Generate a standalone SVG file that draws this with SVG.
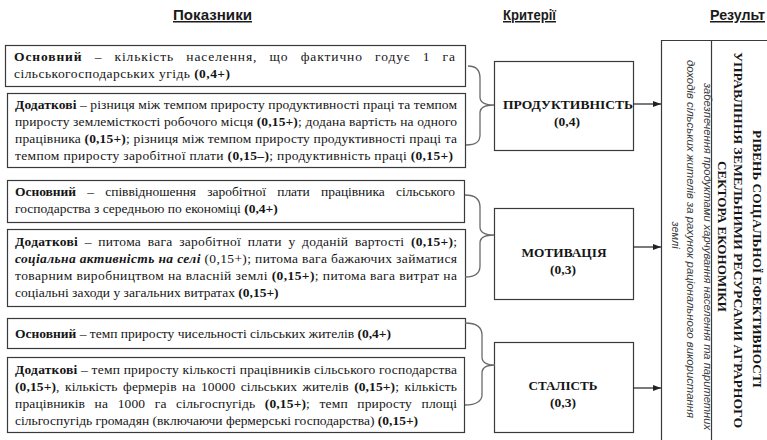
<svg xmlns="http://www.w3.org/2000/svg" width="767" height="440" viewBox="0 0 767 440">
  <defs>
    <style>
      .box { fill: #fff; stroke: #3a3a3a; stroke-width: 1.2; }
      .t { font-family: 'Liberation Serif', 'Times New Roman', 'DejaVu Serif', 'Noto Serif', serif; font-size: 13.5px; fill: #151515; }
      .b { font-weight: bold; }
      .bi { font-weight: bold; font-style: italic; }
      .hdr { font-family: 'Liberation Sans Narrow', 'Liberation Sans', Arial, sans-serif; font-weight: bold; font-size: 15px; fill: #1a1a1a; text-decoration: underline; }
      .crit { font-family: 'Liberation Serif', 'Times New Roman', 'DejaVu Serif', serif; font-weight: bold; font-size: 13.5px; fill: #151515; text-anchor: middle; }
      .title { font-family: 'Liberation Serif', 'Times New Roman', 'DejaVu Serif', serif; font-weight: bold; font-size: 13px; fill: #151515; }
      .note { font-family: 'Liberation Sans', Arial, sans-serif; font-style: italic; font-size: 11px; fill: #3a3a3a; }
      .brace { fill: none; stroke: #6a6a6a; stroke-width: 1.3; }
      .arrow { stroke: #222; stroke-width: 1.2; marker-end: url(#head); }
      .frame { stroke: #3a3a3a; stroke-width: 1.2; fill: none; }
    </style>
    <marker id="head" markerUnits="userSpaceOnUse" markerWidth="8" markerHeight="6" refX="8" refY="3" orient="auto">
      <path d="M0,0 L8,3 L0,6 z" fill="#222"/>
    </marker>
  </defs>

  <rect width="767" height="440" fill="#fff"/>

  <!-- column headers -->
  <g id="headers">
    <text class="hdr" x="173" y="20" textLength="79" lengthAdjust="spacingAndGlyphs">Показники</text>
    <text class="hdr" x="503" y="20" textLength="53" lengthAdjust="spacingAndGlyphs">Критерії</text>
    <text class="hdr" x="710" y="20" textLength="55" lengthAdjust="spacingAndGlyphs">Результ</text>
  </g>

  <!-- productivity indicators -->
  <g id="prod-main">
    <rect class="box" x="5.5" y="45.5" width="460" height="41"/>
    <text class="t" x="14" y="61" textLength="441" lengthAdjust="spacing" word-spacing="8"><tspan class="b">Основний</tspan> – кількість населення, що фактично годує 1 га</text>
    <text class="t" x="14" y="78" textLength="216" lengthAdjust="spacing">сільськогосподарських угідь <tspan class="b">(0,4+)</tspan></text>
  </g>
  <g id="prod-extra">
    <rect class="box" x="7.5" y="93.5" width="458" height="74"/>
    <text class="t" x="15" y="109" textLength="442" lengthAdjust="spacing"><tspan class="b">Додаткові</tspan> – різниця між темпом приросту продуктивності праці та темпом</text>
    <text class="t" x="15" y="126" textLength="442" lengthAdjust="spacing">приросту землемісткості робочого місця <tspan class="b">(0,15+)</tspan>; додана вартість на одного</text>
    <text class="t" x="15" y="143" textLength="442" lengthAdjust="spacing">працівника <tspan class="b">(0,15+)</tspan>; різниця між темпом приросту продуктивності праці та</text>
    <text class="t" x="15" y="160" textLength="438" lengthAdjust="spacing">темпом приросту заробітної плати <tspan class="b">(0,15–)</tspan>; продуктивність праці <tspan class="b">(0,15+)</tspan></text>
  </g>

  <!-- motivation indicators -->
  <g id="mot-main">
    <rect class="box" x="7.5" y="180.5" width="457" height="42"/>
    <text class="t" x="15" y="196" textLength="440" lengthAdjust="spacing" word-spacing="8"><tspan class="b">Основний</tspan> – співвідношення заробітної плати працівника сільського</text>
    <text class="t" x="15" y="213">господарства з середньою по економіці <tspan class="b">(0,4+)</tspan></text>
  </g>
  <g id="mot-extra">
    <rect class="box" x="7.5" y="229.5" width="458" height="77"/>
    <text class="t" x="15" y="246" textLength="442" lengthAdjust="spacing" word-spacing="3"><tspan class="b">Додаткові</tspan> – питома вага заробітної плати у доданій вартості <tspan class="b">(0,15+)</tspan>;</text>
    <text class="t" x="15" y="263" textLength="442" lengthAdjust="spacing"><tspan class="bi">соціальна активність на селі</tspan> (0,15+); питома вага бажаючих займатися</text>
    <text class="t" x="15" y="280" textLength="442" lengthAdjust="spacing">товарним виробництвом на власній землі <tspan class="b">(0,15+)</tspan>; питома вага витрат на</text>
    <text class="t" x="15" y="297">соціальні заходи у загальних витратах <tspan class="b">(0,15+)</tspan></text>
  </g>

  <!-- stability indicators -->
  <g id="stab-main">
    <rect class="box" x="7.5" y="318.5" width="458" height="30"/>
    <text class="t" x="15" y="338"><tspan class="b">Основний</tspan> – темп приросту чисельності сільських жителів <tspan class="b">(0,4+)</tspan></text>
  </g>
  <g id="stab-extra">
    <rect class="box" x="7.5" y="357.5" width="457" height="75"/>
    <text class="t" x="15" y="374" textLength="442" lengthAdjust="spacing"><tspan class="b">Додаткові</tspan> – темп приросту кількості працівників сільського господарства</text>
    <text class="t" x="15" y="391" textLength="442" lengthAdjust="spacing" word-spacing="2"><tspan class="b">(0,15+)</tspan>, кількість фермерів на 10000 сільських жителів <tspan class="b">(0,15+)</tspan>; кількість</text>
    <text class="t" x="15" y="408" textLength="442" lengthAdjust="spacing" word-spacing="6">працівників на 1000 га сільгоспугідь <tspan class="b">(0,15+)</tspan>; темп приросту площі</text>
    <text class="t" x="15" y="425">сільгоспугідь громадян (включаючи фермерські господарства) <tspan class="b">(0,15+)</tspan></text>
  </g>

  <!-- criteria -->
  <g id="crit-prod">
    <rect class="box" x="494.5" y="61.5" width="139" height="89"/>
    <text class="crit" x="568" y="109" textLength="130" lengthAdjust="spacingAndGlyphs">ПРОДУКТИВНІСТЬ</text>
    <text class="crit" x="567" y="126">(0,4)</text>
  </g>
  <g id="crit-mot">
    <rect class="box" x="494.5" y="208.5" width="139" height="91"/>
    <text class="crit" x="564" y="257" textLength="85" lengthAdjust="spacingAndGlyphs">МОТИВАЦІЯ</text>
    <text class="crit" x="563" y="274">(0,3)</text>
  </g>
  <g id="crit-stab">
    <rect class="box" x="494.5" y="342.5" width="139" height="90"/>
    <text class="crit" x="563" y="390" textLength="69" lengthAdjust="spacingAndGlyphs">СТАЛІСТЬ</text>
    <text class="crit" x="563" y="407">(0,3)</text>
  </g>

  <!-- result panel (runs past the right and bottom edges) -->
  <g id="result">
    <path class="frame" d="M661.5,440 V40.5 H767 M711.5,40.5 V440"/>
    <text class="title" transform="translate(752.7,130) rotate(90)" textLength="258" lengthAdjust="spacingAndGlyphs">РІВЕНЬ СОЦІАЛЬНОЇ ЕФЕКТИВНОСТІ</text>
    <text class="title" transform="translate(733.7,52) rotate(90)" textLength="376" lengthAdjust="spacingAndGlyphs">УПРАВЛІННЯ ЗЕМЕЛЬНИМИ РЕСУРСАМИ АГРАРНОГО</text>
    <text class="title" transform="translate(717.7,161) rotate(90)" textLength="151" lengthAdjust="spacingAndGlyphs">СЕКТОРА ЕКОНОМІКИ</text>
    <text class="note" transform="translate(704,83) rotate(90)" textLength="347" lengthAdjust="spacingAndGlyphs">забезпечення продуктами харчування населення та паритетних</text>
    <text class="note" transform="translate(687,60) rotate(90)" textLength="358" lengthAdjust="spacingAndGlyphs">доходів сільських жителів за рахунок раціонального використання</text>
    <text class="note" transform="translate(672,235) rotate(90)" text-anchor="middle">землі</text>
  </g>

  <!-- braces and arrows -->
  <g id="connectors">
    <path class="brace" d="M468,66 C476,66 480,70 480,78 L480,97 C480,102 484,105 494,105 C484,105 480,108 480,113 L480,135 C480,142 476,145 466,145"/>
    <path class="brace" d="M465,195 C475,195 480,199 480,207 L480,227 C480,232 484,235 494,235 C484,235 480,238 480,243 L480,266 C480,273 475,277 465,277"/>
    <path class="brace" d="M465,323 C476,323 482,327 482,335 L482,357 C482,362 486,365 495,365 C486,365 482,368 482,373 L482,395 C482,401 476,405 465,405"/>
    <line class="arrow" x1="633.5" y1="104" x2="661" y2="104"/>
    <line class="arrow" x1="633.5" y1="247" x2="661" y2="247"/>
    <line class="arrow" x1="633.5" y1="388" x2="661" y2="388"/>
  </g>
</svg>
